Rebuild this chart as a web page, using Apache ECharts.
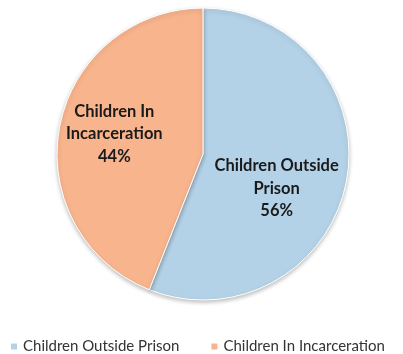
<!DOCTYPE html>
<html>
<head>
<meta charset="utf-8">
<script src="https://cdn.jsdelivr.net/npm/echarts@6/dist/echarts.min.js"></script>
<style>
  html, body { margin: 0; padding: 0; background: #fff; }
  #chart { width: 403px; height: 354px; }
</style>
</head>
<body>
<div id="chart"></div>
<script>
// Share of children by location
const categories = ['Children Outside Prison', 'Children In Incarceration'];
const shares = [56, 44];
const sliceLabels = ['Children Outside\nPrison', 'Children In\nIncarceration'];
const colors = ['#b4d2e7', '#f8b48d'];

// label nudges from the default inside position
const labelOffsets = [[-1, 20], [-14, -6]];

const chart = echarts.init(document.getElementById('chart'), null, { renderer: 'canvas' });

const data = categories.map((name, i) => ({
  name: name,
  value: shares[i],
  itemStyle: { color: colors[i] },
  label: {
    offset: labelOffsets[i],
    formatter: sliceLabels[i] + '\n' + shares[i] + '%'
  }
}));

chart.setOption({
  animation: false,
  legend: {
    data: categories,
    left: 4,
    top: 334,
    itemWidth: 8,
    itemHeight: 8,
    itemGap: 30,
    icon: 'rect',
    textStyle: {
      fontFamily: 'Lato',
      fontSize: 15,
      color: '#333333'
    }
  },
  series: [{
    type: 'pie',
    center: [203, 154],
    radius: [0, 146],
    startAngle: 90,
    clockwise: true,
    data: data,
    itemStyle: {
      borderColor: '#ffffff',
      borderWidth: 1,
      shadowBlur: 4,
      shadowOffsetY: 2,
      shadowColor: 'rgba(0,0,0,0.25)'
    },
    label: {
      show: true,
      position: 'inside',
      fontFamily: 'Lato',
      fontWeight: 'bold',
      fontSize: 16.5,
      lineHeight: 22.5,
      color: '#1a1a1a',
      align: 'center'
    },
    labelLine: { show: false },
    emphasis: { disabled: true }
  }]
});
</script>
</body>
</html>
